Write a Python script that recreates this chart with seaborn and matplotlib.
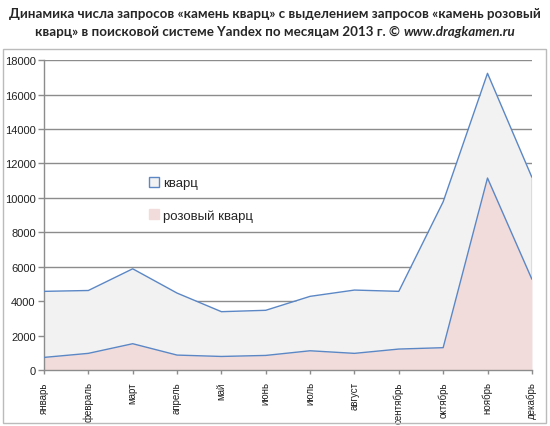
import seaborn as sns
from matplotlib import pyplot as plt
from matplotlib.patches import Rectangle, Patch
import numpy as np
import pandas as pd

sns.set_style("white")
plt.rcParams['font.family'] = ['Liberation Sans', 'DejaVu Sans']

# values
months = ['январь', 'февраль', 'март', 'апрель', 'май', 'июнь',
          'июль', 'август', 'сентябрь', 'октябрь', 'ноябрь', 'декабрь']
kvarts = [4570, 4620, 5880, 4470, 3390, 3470, 4280, 4645, 4570, 9770, 17230, 11200]
rose_kvarts = [735, 970, 1530, 870, 790, 850, 1120, 970, 1220, 1300, 11150, 5280]
y_ticks = [0, 2000, 4000, 6000, 8000, 10000, 12000, 14000, 16000, 18000]

title_1 = 'Динамика числа запросов «камень кварц» с выделением запросов «камень розовый'
title_2 = 'кварц» в поисковой системе Yandex по месяцам 2013 г. © '
title_url = 'www.dragkamen.ru'

df = pd.DataFrame({'pos': np.arange(len(months)), 'month': months,
                   'кварц': kvarts, 'розовый кварц': rose_kvarts})

line_col = '#5B87C5'
grey_fill = '#F2F2F2'
pink_fill = '#F2DCDB'
title_font = ['Lato', 'DejaVu Sans']

fig = plt.figure(figsize=(5.5, 4.27), dpi=100)
ax = fig.add_axes([0.08, 0.131, 0.887, 0.726])

# grid first so the areas sit on top like in excel
for t in y_ticks[1:]:
    ax.axhline(t, color='#8C8C8C', lw=1, zorder=0)

ax.fill_between(df['pos'], df['кварц'], color=grey_fill, lw=0, zorder=1)
ax.fill_between(df['pos'], df['розовый кварц'], color=pink_fill, lw=0, zorder=2)
sns.lineplot(data=df, x='pos', y='кварц', color=line_col, lw=1, ax=ax, zorder=3)
sns.lineplot(data=df, x='pos', y='розовый кварц', color=line_col, lw=1, ax=ax, zorder=3)
# right edge of the area outline
ax.vlines(df['pos'].iloc[-1], df['розовый кварц'].iloc[-1], df['кварц'].iloc[-1],
          color=line_col, lw=1, zorder=3)

ax.set_xlim(0, len(months) - 1)
ax.set_ylim(0, 18000)
ax.set_xticks(df['pos'])
ax.set_xticklabels(months, rotation=90, fontsize=7, color='#222222')
ax.set_yticks(y_ticks)
ax.set_yticklabels([str(t) for t in y_ticks], fontsize=8, color='#222222')
ax.set_xlabel('')
ax.set_ylabel('')

for s in ['top', 'right']:
    ax.spines[s].set_visible(False)
for s in ['left', 'bottom']:
    ax.spines[s].set_color('#8C8C8C')
    ax.spines[s].set_linewidth(1)
ax.tick_params(axis='both', which='both', length=4, width=1, color='#8C8C8C',
               direction='out', left=True, bottom=True, pad=2)
ax.tick_params(axis='x', length=3, pad=5)
ax.patch.set_visible(False)

handles = [Patch(facecolor=grey_fill, edgecolor=line_col, lw=1, label='кварц'),
           Patch(facecolor=pink_fill, edgecolor=pink_fill, lw=1, label='розовый кварц')]
leg = ax.legend(handles=handles, loc='upper left', bbox_to_anchor=(0.19, 0.662),
                frameon=False, fontsize=9.5, handlelength=0.8, handleheight=0.8,
                handletextpad=0.3, labelspacing=1.5)

# outer chart frame
fig.patches.append(Rectangle((3 / 550, 3 / 427), 543 / 550, 374 / 427,
                             transform=fig.transFigure, fill=False,
                             edgecolor='#BBBBBB', lw=1))

# title, sized so the first line spans about 527 px like the original
renderer = fig.canvas.get_renderer()
t1 = fig.text(0.5, 1 - 14 / 427, title_1, ha='center', va='center', fontsize=9,
              fontweight='bold', family=title_font)
w1 = t1.get_window_extent(renderer).width
fs = 9 * 527 / w1
t1.set_fontsize(fs)

t2 = fig.text(0, 1 - 32 / 427, title_2, ha='left', va='center', fontsize=fs,
              fontweight='bold', family=title_font)
t3 = fig.text(0, 1 - 32 / 427, title_url, ha='left', va='center', fontsize=fs,
              fontweight='bold', fontstyle='italic', family=title_font)
w2 = t2.get_window_extent(renderer).width
w3 = t3.get_window_extent(renderer).width
x0 = (550 - w2 - w3) / 2
t2.set_x(x0 / 550)
t3.set_x((x0 + w2) / 550)

fig.savefig('out.png', dpi=100)
